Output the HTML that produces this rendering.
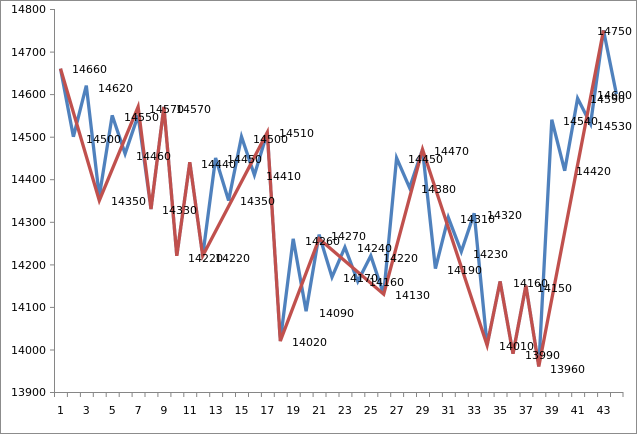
<!DOCTYPE html>
<html><head><meta charset="utf-8"><style>
body{margin:0;background:#fff}
svg{display:block;font-family:"DejaVu Sans","Liberation Sans",sans-serif;font-size:11px}
</style></head><body>
<svg width="637" height="434" viewBox="0 0 637 434">
<rect x="0.5" y="0.5" width="636" height="433" fill="#fff" stroke="#8c8c8c"/>
<g stroke="#868686" stroke-width="1">
<line x1="54.5" y1="9" x2="54.5" y2="392"/>
<line x1="54" y1="392.5" x2="623" y2="392.5"/>
<line x1="50" y1="9.5" x2="54" y2="9.5"/><line x1="50" y1="52.1" x2="54" y2="52.1"/><line x1="50" y1="94.6" x2="54" y2="94.6"/><line x1="50" y1="137.2" x2="54" y2="137.2"/><line x1="50" y1="179.7" x2="54" y2="179.7"/><line x1="50" y1="222.3" x2="54" y2="222.3"/><line x1="50" y1="264.9" x2="54" y2="264.9"/><line x1="50" y1="307.4" x2="54" y2="307.4"/><line x1="50" y1="350" x2="54" y2="350"/><line x1="50" y1="392.5" x2="54" y2="392.5"/>
</g>
<g stroke="#868686">
<path d="M54.5 392v5M67.4 392v5M80.4 392v5M93.3 392v5M106.2 392v5M119.2 392v5M132.1 392v5M145 392v5M157.9 392v5M170.9 392v5M183.8 392v5M196.7 392v5M209.7 392v5M222.6 392v5M235.5 392v5M248.5 392v5M261.4 392v5M274.3 392v5M287.2 392v5M300.2 392v5M313.1 392v5M326 392v5M339 392v5M351.9 392v5M364.8 392v5M377.8 392v5M390.7 392v5M403.6 392v5M416.5 392v5M429.5 392v5M442.4 392v5M455.3 392v5M468.3 392v5M481.2 392v5M494.1 392v5M507 392v5M520 392v5M532.9 392v5M545.8 392v5M558.8 392v5M571.7 392v5M584.6 392v5M597.6 392v5M610.5 392v5M623 392v5"/>
</g>
<g text-anchor="end" fill="#000">
<text x="46" y="13">14800</text><text x="46" y="56">14700</text><text x="46" y="98">14600</text><text x="46" y="141">14500</text><text x="46" y="183">14400</text><text x="46" y="226">14300</text><text x="46" y="269">14200</text><text x="46" y="311">14100</text><text x="46" y="354">14000</text><text x="46" y="396">13900</text>
</g>
<g text-anchor="middle" fill="#000">
<text x="60.5" y="414">1</text><text x="86.3" y="414">3</text><text x="112.2" y="414">5</text><text x="138.1" y="414">7</text><text x="163.9" y="414">9</text><text x="189.8" y="414">11</text><text x="215.6" y="414">13</text><text x="241.5" y="414">15</text><text x="267.3" y="414">17</text><text x="293.2" y="414">19</text><text x="319.1" y="414">21</text><text x="344.9" y="414">23</text><text x="370.8" y="414">25</text><text x="396.6" y="414">27</text><text x="422.5" y="414">29</text><text x="448.3" y="414">31</text><text x="474.2" y="414">33</text><text x="500.1" y="414">35</text><text x="525.9" y="414">37</text><text x="551.8" y="414">39</text><text x="577.6" y="414">41</text><text x="603.5" y="414">43</text>
</g>
<polyline fill="none" stroke="#4f81bd" stroke-width="3.3" points="60.5,68.6 73.4,136.7 86.3,85.6 99.3,196.3 112.2,115.4 125.1,153.7 138.1,115.4 151,209 163.9,106.9 176.8,255.8 189.8,162.2 202.7,255.8 215.6,158 228.6,200.5 241.5,136.7 254.4,175 267.3,132.4 280.3,341 293.2,238.8 306.1,311.2 319.1,234.6 332,277.1 344.9,247.3 357.8,281.4 370.8,255.8 383.7,294.2 396.6,158 409.6,187.8 422.5,149.4 435.4,268.6 448.3,217.5 461.3,251.6 474.2,213.3 487.1,345.2 500.1,281.4 513,353.7 525.9,285.6 538.8,366.5 551.8,119.7 564.7,170.7 577.6,98.4 590.6,123.9 603.5,30.3 616.4,94.1"/>
<polyline fill="none" stroke="#c0504d" stroke-width="3.3" points="60.5,68.6 99.3,200.5 138.1,106.9 151,209 163.9,106.9 176.8,255.8 189.8,162.2 202.7,255.8 267.3,132.4 280.3,341 319.1,238.8 383.7,294.2 422.5,149.4 487.1,345.2 500.1,281.4 513,353.7 525.9,285.6 538.8,366.5 603.5,30.3"/>
<g fill="#000">
<text x="72" y="73">14660</text><text x="98" y="92">14620</text><text x="86" y="143">14500</text><text x="124" y="121">14550</text><text x="149" y="113">14570</text><text x="176" y="113">14570</text><text x="136" y="160">14460</text><text x="111" y="205">14350</text><text x="162" y="214">14330</text><text x="188" y="262">14220</text><text x="215" y="262">14220</text><text x="201" y="168">14440</text><text x="227" y="163">14450</text><text x="253" y="143">14500</text><text x="279" y="137">14510</text><text x="266" y="180">14410</text><text x="240" y="205">14350</text><text x="305" y="245">14260</text><text x="331" y="240">14270</text><text x="357" y="252">14240</text><text x="343" y="282">14170</text><text x="369" y="286">14160</text><text x="383" y="262">14220</text><text x="395" y="299">14130</text><text x="319" y="317">14090</text><text x="292" y="346">14020</text><text x="408" y="163">14450</text><text x="434" y="155">14470</text><text x="421" y="193">14380</text><text x="460" y="223">14310</text><text x="487" y="219">14320</text><text x="447" y="274">14190</text><text x="473" y="258">14230</text><text x="499" y="350">14010</text><text x="513" y="287">14160</text><text x="537" y="292">14150</text><text x="525" y="359">13990</text><text x="550" y="373">13960</text><text x="563" y="125">14540</text><text x="576" y="175">14420</text><text x="590" y="103">14590</text><text x="597" y="99">14600</text><text x="597" y="130">14530</text><text x="597" y="35">14750</text>
</g>
</svg>
</body></html>
